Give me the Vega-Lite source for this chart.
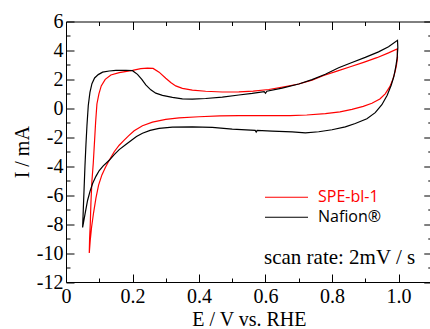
{
  "$schema": "https://vega.github.io/schema/vega-lite/v6.json",
  "width": 365.75,
  "height": 260.5,
  "autosize": {"type": "none"},
  "padding": {"left": 66, "top": 21.5, "right": -1.75, "bottom": 47},
  "background": "white",
  "datasets": {
    "note": [{"t": "scan rate: 2mV / s"}],
    "cv": [
      {"s": "SPE-bl-1", "k": 1, "E": 0.070, "I": -10.0},
      {"s": "SPE-bl-1", "k": 2, "E": 0.071, "I": -9.0},
      {"s": "SPE-bl-1", "k": 3, "E": 0.073, "I": -8.0},
      {"s": "SPE-bl-1", "k": 4, "E": 0.075, "I": -6.5},
      {"s": "SPE-bl-1", "k": 5, "E": 0.078, "I": -5.0},
      {"s": "SPE-bl-1", "k": 6, "E": 0.082, "I": -3.8},
      {"s": "SPE-bl-1", "k": 7, "E": 0.086, "I": -2.2},
      {"s": "SPE-bl-1", "k": 8, "E": 0.089, "I": -1.0},
      {"s": "SPE-bl-1", "k": 9, "E": 0.093, "I": 0.3},
      {"s": "SPE-bl-1", "k": 10, "E": 0.099, "I": 1.0},
      {"s": "SPE-bl-1", "k": 11, "E": 0.106, "I": 1.55},
      {"s": "SPE-bl-1", "k": 12, "E": 0.118, "I": 2.0},
      {"s": "SPE-bl-1", "k": 13, "E": 0.135, "I": 2.3},
      {"s": "SPE-bl-1", "k": 14, "E": 0.160, "I": 2.47},
      {"s": "SPE-bl-1", "k": 15, "E": 0.200, "I": 2.62},
      {"s": "SPE-bl-1", "k": 16, "E": 0.225, "I": 2.74},
      {"s": "SPE-bl-1", "k": 17, "E": 0.245, "I": 2.78},
      {"s": "SPE-bl-1", "k": 18, "E": 0.262, "I": 2.76},
      {"s": "SPE-bl-1", "k": 19, "E": 0.280, "I": 2.50},
      {"s": "SPE-bl-1", "k": 20, "E": 0.300, "I": 2.08},
      {"s": "SPE-bl-1", "k": 21, "E": 0.315, "I": 1.78},
      {"s": "SPE-bl-1", "k": 22, "E": 0.330, "I": 1.55},
      {"s": "SPE-bl-1", "k": 23, "E": 0.350, "I": 1.38},
      {"s": "SPE-bl-1", "k": 24, "E": 0.380, "I": 1.26},
      {"s": "SPE-bl-1", "k": 25, "E": 0.420, "I": 1.18},
      {"s": "SPE-bl-1", "k": 26, "E": 0.470, "I": 1.13},
      {"s": "SPE-bl-1", "k": 27, "E": 0.520, "I": 1.14},
      {"s": "SPE-bl-1", "k": 28, "E": 0.563, "I": 1.19},
      {"s": "SPE-bl-1", "k": 29, "E": 0.610, "I": 1.30},
      {"s": "SPE-bl-1", "k": 30, "E": 0.660, "I": 1.50},
      {"s": "SPE-bl-1", "k": 31, "E": 0.700, "I": 1.68},
      {"s": "SPE-bl-1", "k": 32, "E": 0.740, "I": 1.95},
      {"s": "SPE-bl-1", "k": 33, "E": 0.775, "I": 2.27},
      {"s": "SPE-bl-1", "k": 34, "E": 0.815, "I": 2.57},
      {"s": "SPE-bl-1", "k": 35, "E": 0.855, "I": 2.87},
      {"s": "SPE-bl-1", "k": 36, "E": 0.895, "I": 3.18},
      {"s": "SPE-bl-1", "k": 37, "E": 0.935, "I": 3.50},
      {"s": "SPE-bl-1", "k": 38, "E": 0.970, "I": 3.83},
      {"s": "SPE-bl-1", "k": 39, "E": 0.996, "I": 4.10},
      {"s": "SPE-bl-1", "k": 40, "E": 0.997, "I": 3.5},
      {"s": "SPE-bl-1", "k": 41, "E": 0.994, "I": 3.0},
      {"s": "SPE-bl-1", "k": 42, "E": 0.990, "I": 2.55},
      {"s": "SPE-bl-1", "k": 43, "E": 0.983, "I": 2.0},
      {"s": "SPE-bl-1", "k": 44, "E": 0.974, "I": 1.5},
      {"s": "SPE-bl-1", "k": 45, "E": 0.960, "I": 1.0},
      {"s": "SPE-bl-1", "k": 46, "E": 0.944, "I": 0.65},
      {"s": "SPE-bl-1", "k": 47, "E": 0.920, "I": 0.35},
      {"s": "SPE-bl-1", "k": 48, "E": 0.894, "I": 0.14},
      {"s": "SPE-bl-1", "k": 49, "E": 0.860, "I": -0.07},
      {"s": "SPE-bl-1", "k": 50, "E": 0.824, "I": -0.24},
      {"s": "SPE-bl-1", "k": 51, "E": 0.780, "I": -0.36},
      {"s": "SPE-bl-1", "k": 52, "E": 0.724, "I": -0.46},
      {"s": "SPE-bl-1", "k": 53, "E": 0.674, "I": -0.50},
      {"s": "SPE-bl-1", "k": 54, "E": 0.600, "I": -0.50},
      {"s": "SPE-bl-1", "k": 55, "E": 0.520, "I": -0.50},
      {"s": "SPE-bl-1", "k": 56, "E": 0.463, "I": -0.52},
      {"s": "SPE-bl-1", "k": 57, "E": 0.400, "I": -0.58},
      {"s": "SPE-bl-1", "k": 58, "E": 0.340, "I": -0.66},
      {"s": "SPE-bl-1", "k": 59, "E": 0.300, "I": -0.76},
      {"s": "SPE-bl-1", "k": 60, "E": 0.260, "I": -0.95},
      {"s": "SPE-bl-1", "k": 61, "E": 0.230, "I": -1.2},
      {"s": "SPE-bl-1", "k": 62, "E": 0.205, "I": -1.55},
      {"s": "SPE-bl-1", "k": 63, "E": 0.188, "I": -1.9},
      {"s": "SPE-bl-1", "k": 64, "E": 0.175, "I": -2.2},
      {"s": "SPE-bl-1", "k": 65, "E": 0.160, "I": -2.55},
      {"s": "SPE-bl-1", "k": 66, "E": 0.145, "I": -3.0},
      {"s": "SPE-bl-1", "k": 67, "E": 0.130, "I": -3.59},
      {"s": "SPE-bl-1", "k": 68, "E": 0.118, "I": -4.1},
      {"s": "SPE-bl-1", "k": 69, "E": 0.108, "I": -4.6},
      {"s": "SPE-bl-1", "k": 70, "E": 0.098, "I": -5.3},
      {"s": "SPE-bl-1", "k": 71, "E": 0.090, "I": -6.2},
      {"s": "SPE-bl-1", "k": 72, "E": 0.083, "I": -7.2},
      {"s": "SPE-bl-1", "k": 73, "E": 0.077, "I": -8.2},
      {"s": "SPE-bl-1", "k": 74, "E": 0.073, "I": -9.1},
      {"s": "SPE-bl-1", "k": 75, "E": 0.070, "I": -10.0},
      {"s": "Nafion®", "k": 1, "E": 0.050, "I": -8.23},
      {"s": "Nafion®", "k": 2, "E": 0.052, "I": -7.0},
      {"s": "Nafion®", "k": 3, "E": 0.054, "I": -5.8},
      {"s": "Nafion®", "k": 4, "E": 0.057, "I": -4.0},
      {"s": "Nafion®", "k": 5, "E": 0.060, "I": -2.5},
      {"s": "Nafion®", "k": 6, "E": 0.063, "I": -1.2},
      {"s": "Nafion®", "k": 7, "E": 0.067, "I": 0.2},
      {"s": "Nafion®", "k": 8, "E": 0.072, "I": 1.1},
      {"s": "Nafion®", "k": 9, "E": 0.078, "I": 1.7},
      {"s": "Nafion®", "k": 10, "E": 0.086, "I": 2.1},
      {"s": "Nafion®", "k": 11, "E": 0.097, "I": 2.33},
      {"s": "Nafion®", "k": 12, "E": 0.110, "I": 2.50},
      {"s": "Nafion®", "k": 13, "E": 0.130, "I": 2.58},
      {"s": "Nafion®", "k": 14, "E": 0.150, "I": 2.62},
      {"s": "Nafion®", "k": 15, "E": 0.180, "I": 2.63},
      {"s": "Nafion®", "k": 16, "E": 0.200, "I": 2.60},
      {"s": "Nafion®", "k": 17, "E": 0.215, "I": 2.35},
      {"s": "Nafion®", "k": 18, "E": 0.228, "I": 2.0},
      {"s": "Nafion®", "k": 19, "E": 0.240, "I": 1.62},
      {"s": "Nafion®", "k": 20, "E": 0.255, "I": 1.28},
      {"s": "Nafion®", "k": 21, "E": 0.270, "I": 1.05},
      {"s": "Nafion®", "k": 22, "E": 0.290, "I": 0.90},
      {"s": "Nafion®", "k": 23, "E": 0.320, "I": 0.76},
      {"s": "Nafion®", "k": 24, "E": 0.350, "I": 0.66},
      {"s": "Nafion®", "k": 25, "E": 0.380, "I": 0.64},
      {"s": "Nafion®", "k": 26, "E": 0.420, "I": 0.68},
      {"s": "Nafion®", "k": 27, "E": 0.470, "I": 0.78},
      {"s": "Nafion®", "k": 28, "E": 0.520, "I": 0.92},
      {"s": "Nafion®", "k": 29, "E": 0.560, "I": 1.03},
      {"s": "Nafion®", "k": 30, "E": 0.596, "I": 1.16},
      {"s": "Nafion®", "k": 31, "E": 0.600, "I": 1.04},
      {"s": "Nafion®", "k": 32, "E": 0.604, "I": 1.18},
      {"s": "Nafion®", "k": 33, "E": 0.650, "I": 1.40},
      {"s": "Nafion®", "k": 34, "E": 0.700, "I": 1.68},
      {"s": "Nafion®", "k": 35, "E": 0.740, "I": 1.98},
      {"s": "Nafion®", "k": 36, "E": 0.780, "I": 2.35},
      {"s": "Nafion®", "k": 37, "E": 0.820, "I": 2.80},
      {"s": "Nafion®", "k": 38, "E": 0.860, "I": 3.17},
      {"s": "Nafion®", "k": 39, "E": 0.900, "I": 3.52},
      {"s": "Nafion®", "k": 40, "E": 0.940, "I": 3.90},
      {"s": "Nafion®", "k": 41, "E": 0.970, "I": 4.25},
      {"s": "Nafion®", "k": 42, "E": 0.997, "I": 4.70},
      {"s": "Nafion®", "k": 43, "E": 0.998, "I": 4.2},
      {"s": "Nafion®", "k": 44, "E": 0.996, "I": 3.5},
      {"s": "Nafion®", "k": 45, "E": 0.992, "I": 2.9},
      {"s": "Nafion®", "k": 46, "E": 0.986, "I": 2.2},
      {"s": "Nafion®", "k": 47, "E": 0.978, "I": 1.6},
      {"s": "Nafion®", "k": 48, "E": 0.966, "I": 0.9},
      {"s": "Nafion®", "k": 49, "E": 0.950, "I": 0.25},
      {"s": "Nafion®", "k": 50, "E": 0.930, "I": -0.30},
      {"s": "Nafion®", "k": 51, "E": 0.905, "I": -0.72},
      {"s": "Nafion®", "k": 52, "E": 0.870, "I": -1.05},
      {"s": "Nafion®", "k": 53, "E": 0.840, "I": -1.28},
      {"s": "Nafion®", "k": 54, "E": 0.800, "I": -1.48},
      {"s": "Nafion®", "k": 55, "E": 0.760, "I": -1.62},
      {"s": "Nafion®", "k": 56, "E": 0.720, "I": -1.70},
      {"s": "Nafion®", "k": 57, "E": 0.680, "I": -1.62},
      {"s": "Nafion®", "k": 58, "E": 0.620, "I": -1.57},
      {"s": "Nafion®", "k": 59, "E": 0.575, "I": -1.52},
      {"s": "Nafion®", "k": 60, "E": 0.572, "I": -1.64},
      {"s": "Nafion®", "k": 61, "E": 0.569, "I": -1.52},
      {"s": "Nafion®", "k": 62, "E": 0.500, "I": -1.43},
      {"s": "Nafion®", "k": 63, "E": 0.440, "I": -1.32},
      {"s": "Nafion®", "k": 64, "E": 0.380, "I": -1.28},
      {"s": "Nafion®", "k": 65, "E": 0.320, "I": -1.30},
      {"s": "Nafion®", "k": 66, "E": 0.280, "I": -1.38},
      {"s": "Nafion®", "k": 67, "E": 0.253, "I": -1.52},
      {"s": "Nafion®", "k": 68, "E": 0.230, "I": -1.72},
      {"s": "Nafion®", "k": 69, "E": 0.212, "I": -1.95},
      {"s": "Nafion®", "k": 70, "E": 0.197, "I": -2.2},
      {"s": "Nafion®", "k": 71, "E": 0.180, "I": -2.5},
      {"s": "Nafion®", "k": 72, "E": 0.160, "I": -2.85},
      {"s": "Nafion®", "k": 73, "E": 0.145, "I": -3.2},
      {"s": "Nafion®", "k": 74, "E": 0.130, "I": -3.59},
      {"s": "Nafion®", "k": 75, "E": 0.112, "I": -3.98},
      {"s": "Nafion®", "k": 76, "E": 0.100, "I": -4.30},
      {"s": "Nafion®", "k": 77, "E": 0.090, "I": -4.70},
      {"s": "Nafion®", "k": 78, "E": 0.080, "I": -5.20},
      {"s": "Nafion®", "k": 79, "E": 0.072, "I": -5.75},
      {"s": "Nafion®", "k": 80, "E": 0.065, "I": -6.35},
      {"s": "Nafion®", "k": 81, "E": 0.058, "I": -7.2},
      {"s": "Nafion®", "k": 82, "E": 0.050, "I": -8.23}
    ]
  },
  "data": {"name": "cv"},
  "resolve": {"axis": {"x": "independent", "y": "independent"}},
  "layer": [
    {
      "mark": {"type": "line", "strokeWidth": 1.2, "interpolate": "linear"},
      "encoding": {
        "x": {
          "field": "E", "type": "quantitative",
          "scale": {"domain": [0, 1.1], "nice": false, "zero": false},
          "axis": {
            "orient": "bottom", "values": [0, 0.2, 0.4, 0.6, 0.8, 1.0],
            "labelExpr": "datum.value == 0 ? '0' : format(datum.value, '.1f')",
            "tickSize": -8, "labelPadding": 12, "labelFlush": false, "labelOverlap": false,
            "title": "E / V vs. RHE", "titlePadding": 3
          }
        },
        "y": {
          "field": "I", "type": "quantitative",
          "scale": {"domain": [-12, 6], "nice": false, "zero": false},
          "axis": {
            "orient": "left", "values": [-12, -10, -8, -6, -4, -2, 0, 2, 4, 6],
            "labelExpr": "'' + datum.value",
            "tickSize": -8, "labelPadding": 11, "labelFlush": false, "labelOverlap": false,
            "title": "I / mA", "titlePadding": 4
          }
        },
        "order": {"field": "k", "type": "quantitative"},
        "color": {
          "field": "s", "type": "nominal",
          "scale": {"domain": ["SPE-bl-1", "Nafion®"], "range": ["#ff0000", "#000000"]},
          "legend": {
            "orient": "none", "legendX": 198, "legendY": 166, "title": null,
            "symbolType": "stroke", "symbolSize": 1849, "symbolStrokeWidth": 1.2,
            "clipHeight": 19.5, "rowPadding": 0, "padding": 0, "symbolOffset": 0,
            "labelFont": "Open Sans", "labelFontSize": 16, "labelOffset": 9,
            "labelColor": "black",
            "encode": {"labels": {"update": {"fill": {"signal": "datum.value === 'SPE-bl-1' ? '#ff0000' : '#000000'"}}}}
          }
        }
      }
    },
    {
      "data": {"name": "note"},
      "mark": {"type": "text", "align": "left", "baseline": "alphabetic", "font": "Liberation Serif", "fontSize": 21, "color": "black"},
      "encoding": {
        "x": {
          "datum": 0.5955, "type": "quantitative",
          "scale": {"domain": [0, 1.1], "nice": false, "zero": false},
          "axis": {"orient": "bottom", "values": [0.1, 0.3, 0.5, 0.7, 0.9], "tickSize": -4, "labels": false, "domain": false, "title": null}
        },
        "y": {
          "datum": -10.78, "type": "quantitative",
          "scale": {"domain": [-12, 6], "nice": false, "zero": false},
          "axis": {"orient": "left", "values": [-11, -9, -7, -5, -3, -1, 1, 3, 5], "tickSize": -4, "labels": false, "domain": false, "title": null}
        },
        "text": {"field": "t", "type": "nominal"}
      }
    },
    {
      "mark": {"type": "point", "opacity": 0},
      "encoding": {
        "x": {
          "field": "E", "type": "quantitative",
          "scale": {"domain": [0, 1.1], "nice": false, "zero": false},
          "axis": {"orient": "top", "values": [0, 0.2, 0.4, 0.6, 0.8, 1.0], "tickSize": -8, "labels": false, "title": null}
        },
        "y": {
          "field": "I", "type": "quantitative",
          "scale": {"domain": [-12, 6], "nice": false, "zero": false},
          "axis": {"orient": "right", "values": [-12, -10, -8, -6, -4, -2, 0, 2, 4, 6], "tickSize": -8, "labels": false, "title": null}
        }
      }
    },
    {
      "mark": {"type": "point", "opacity": 0},
      "encoding": {
        "x": {
          "field": "E", "type": "quantitative",
          "scale": {"domain": [0, 1.1], "nice": false, "zero": false},
          "axis": {"orient": "top", "values": [0.1, 0.3, 0.5, 0.7, 0.9], "tickSize": -4, "labels": false, "domain": false, "title": null}
        },
        "y": {
          "field": "I", "type": "quantitative",
          "scale": {"domain": [-12, 6], "nice": false, "zero": false},
          "axis": {"orient": "right", "values": [-11, -9, -7, -5, -3, -1, 1, 3, 5], "tickSize": -4, "labels": false, "domain": false, "title": null}
        }
      }
    }
  ],
  "config": {
    "view": {"stroke": null},
    "font": "Liberation Serif",
    "axis": {
      "grid": false, "domainColor": "#000000", "tickColor": "#000000", "domainWidth": 1, "tickWidth": 1,
      "labelColor": "#000000", "titleColor": "#000000",
      "labelFont": "Liberation Serif", "labelFontSize": 20,
      "titleFont": "Liberation Serif", "titleFontSize": 20, "titleFontWeight": "normal"
    }
  }
}
